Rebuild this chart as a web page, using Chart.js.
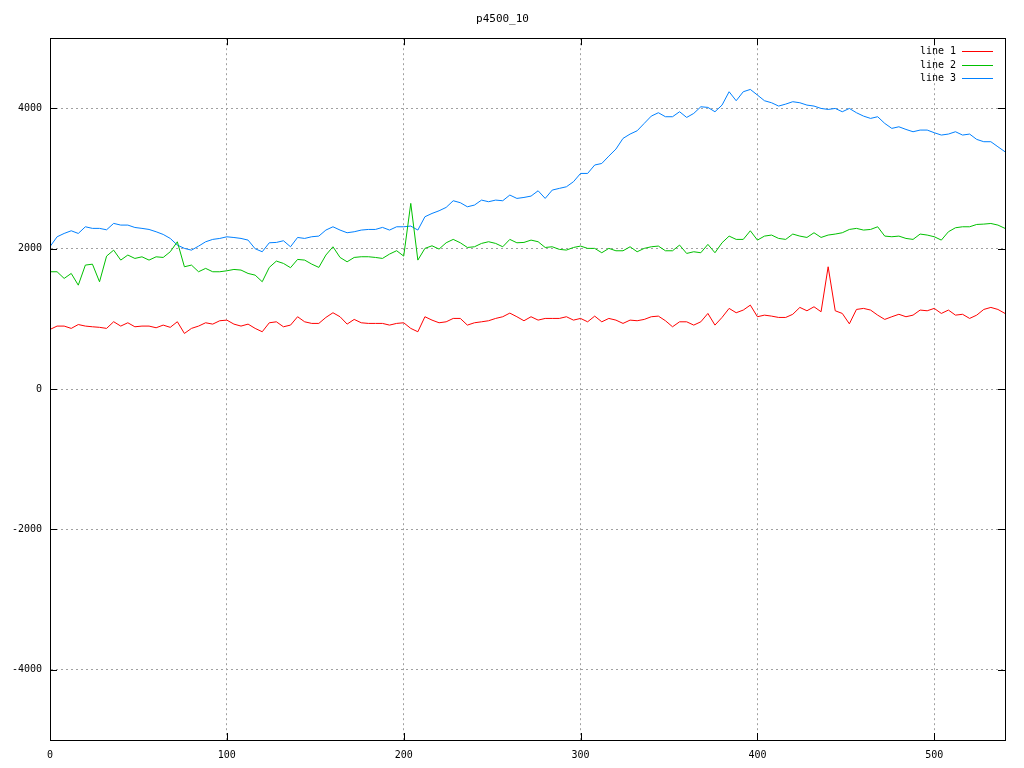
<!DOCTYPE html>
<html>
<head>
<meta charset="utf-8">
<title>p4500_10</title>
<script src="https://cdn.jsdelivr.net/npm/chart.js@4.4.0/dist/chart.umd.min.js"></script>
<style>
html, body { margin: 0; padding: 0; background: #fff; }
#wrap { width: 1024px; height: 768px; }
</style>
</head>
<body>
<div id="wrap"><canvas id="plot"></canvas></div>
<script>
// sample positions (x)
var xValues = [0,4,8,12,16,20,24,28,32,36,40,44,48,52,56,60,64,68,72,76,80,84,88,92,96,100,104,108,112,
  116,120,124,128,132,136,140,144,148,152,156,160,164,168,172,176,180,184,188,192,196,200,204,208,212,
  216,220,224,228,232,236,240,244,248,252,256,260,264,268,272,276,280,284,288,292,296,300,304,308,
  312,316,320,324,328,332,336,340,344,348,352,356,360,364,368,372,376,380,384,388,392,396,400,404,408,412,416,420,
  424,428,432,436,440,444,448,452,456,460,464,468,472,476,480,484,488,492,496,500,504,508,512,516,520,524,528,532,536,540];

var line1 = [850,898,898,865,920,898,888,880,865,960,898,945,888,898,898,874,912,880,960,793,865,898,945,926,974,983,926,898,926,
  865,817,945,959,888,912,1031,959,936,936,1021,1088,1031,926,993,945,936,936,936,912,936,945,865,817,1031,
  983,945,959,1007,1007,912,945,959,974,1007,1031,1083,1031,974,1031,983,1007,1007,1007,1031,983,1007,959,1040,
  959,1007,983,936,983,974,993,1031,1040,974,888,959,959,912,959,1078,912,1021,1150,1088,1126,1197,1031,1054,1040,1021,1021,1066,
  1164,1116,1173,1102,1743,1116,1078,930,1135,1150,1126,1054,993,1031,1066,1031,1054,1126,1116,1150,1078,1126,1054,1066,1007,1054,1135,1164,1135,1078];

var line2 = [1672,1672,1577,1648,1481,1767,1780,1529,1895,1980,1838,1910,1862,1885,1838,1885,1876,1957,2099,1743,1767,1672,1720,1672,1672,1686,1705,1696,1648,
  1624,1530,1734,1824,1791,1730,1848,1838,1781,1734,1910,2028,1876,1814,1876,1886,1886,1876,1862,1924,1972,1895,2646,1838,2005,
  2042,1995,2085,2133,2085,2018,2028,2076,2100,2076,2028,2133,2085,2090,2123,2100,2018,2028,1991,1981,2018,2038,2005,2005,
  1943,2005,1971,1971,2028,1957,2005,2028,2038,1971,1971,2052,1933,1957,1943,2062,1943,2085,2180,2133,2133,2256,2123,2180,2195,2147,2133,2209,
  2180,2161,2228,2161,2195,2209,2228,2275,2290,2266,2275,2313,2180,2171,2180,2147,2133,2209,2195,2171,2123,2242,2299,2313,2313,2346,2351,2360,2337,2290];

var line3 = [2030,2170,2218,2256,2218,2313,2290,2290,2270,2361,2337,2337,2303,2290,2275,2242,2204,2147,2052,2005,1980,2037,2099,2133,2147,2170,2160,2147,2123,
  2000,1957,2085,2090,2114,2028,2161,2147,2171,2180,2266,2313,2266,2228,2242,2266,2275,2275,2304,2266,2313,2313,2323,2266,2456,
  2503,2541,2589,2684,2656,2598,2622,2693,2670,2693,2684,2765,2717,2731,2750,2826,2717,2836,2860,2883,2955,3073,3073,3193,
  3215,3320,3420,3572,3634,3681,3786,3890,3938,3881,3881,3952,3871,3928,4023,4014,3952,4047,4237,4109,4237,4270,4190,4109,4080,4033,4061,4095,
  4080,4047,4033,3999,3985,3999,3952,3999,3938,3890,3857,3881,3786,3715,3738,3700,3667,3691,3691,3653,3620,3634,3667,3620,3634,3558,3525,3525,3453,3382];

var seriesNames = ['line 1', 'line 2', 'line 3'];
var seriesColors = ['#ff0000', '#00c000', '#0080ff'];
var xTicks = [0, 100, 200, 300, 400, 500];
var yTicks = [-4000, -2000, 0, 2000, 4000];
var chartTitle = 'p4500_10';

function pts(ys) {
  return xValues.map(function (x, i) { return { x: x, y: ys[i] }; });
}

var monoFont = '"DejaVu Sans Mono", "Liberation Mono", monospace';

// frame, inward tick marks and the gnuplot style key
var gnuplotBits = {
  id: 'gnuplotBits',
  afterDraw: function (chart) {
    var ctx = chart.ctx, a = chart.chartArea;
    var xs = chart.scales.x, ys = chart.scales.y;
    ctx.save();
    ctx.setLineDash([]);
    ctx.strokeStyle = '#000';
    ctx.lineWidth = 1;
    ctx.strokeRect(Math.round(a.left) + 0.5, Math.round(a.top) + 0.5,
      Math.round(a.right - a.left), Math.round(a.bottom - a.top));
    ctx.beginPath();
    xTicks.forEach(function (v) {
      var p = Math.round(xs.getPixelForValue(v)) + 0.5;
      ctx.moveTo(p, a.bottom); ctx.lineTo(p, a.bottom - 7);
      ctx.moveTo(p, a.top); ctx.lineTo(p, a.top + 7);
    });
    yTicks.forEach(function (v) {
      var p = Math.round(ys.getPixelForValue(v)) + 0.5;
      ctx.moveTo(a.left, p); ctx.lineTo(a.left + 7, p);
      ctx.moveTo(a.right, p); ctx.lineTo(a.right - 7, p);
    });
    ctx.stroke();

    // key
    ctx.font = '10px ' + monoFont;
    ctx.textAlign = 'right';
    ctx.textBaseline = 'middle';
    seriesNames.forEach(function (name, i) {
      var y = Math.round(a.top + 13 + i * 13.5) + 0.5;
      ctx.fillStyle = '#000';
      ctx.fillText(name, a.right - 49, y);
      ctx.strokeStyle = seriesColors[i];
      ctx.beginPath();
      ctx.moveTo(a.right - 43, y);
      ctx.lineTo(a.right - 12, y);
      ctx.stroke();
    });
    ctx.restore();
  }
};

var gridStyle = {
  color: '#a0a0a0',
  lineWidth: 1,
  drawTicks: false
};

function plainLabel(v) { return String(v); }

new Chart(document.getElementById('plot'), {
  type: 'line',
  data: {
    datasets: [
      { label: seriesNames[0], data: pts(line1), borderColor: seriesColors[0], borderWidth: 1, pointRadius: 0, tension: 0, fill: false },
      { label: seriesNames[1], data: pts(line2), borderColor: seriesColors[1], borderWidth: 1, pointRadius: 0, tension: 0, fill: false },
      { label: seriesNames[2], data: pts(line3), borderColor: seriesColors[2], borderWidth: 1, pointRadius: 0, tension: 0, fill: false }
    ]
  },
  options: {
    responsive: true,
    maintainAspectRatio: false,
    animation: false,
    layout: { padding: { top: 0, right: 19, bottom: 0, left: 0 } },
    plugins: {
      legend: { display: false },
      tooltip: { enabled: false },
      title: {
        display: true,
        text: chartTitle,
        color: '#000',
        font: { family: monoFont, size: 11, weight: 'normal' },
        padding: { top: 13, bottom: 12 }
      }
    },
    scales: {
      x: {
        type: 'linear',
        min: 0,
        max: 540,
        afterBuildTicks: function (s) { s.ticks = xTicks.map(function (v) { return { value: v }; }); },
        afterFit: function (s) { s.height = 28; },
        grid: gridStyle,
        border: { display: true, color: '#000', dash: [2, 3] },
        ticks: { color: '#000', padding: 9, maxRotation: 0, font: { family: monoFont, size: 10 }, callback: plainLabel }
      },
      y: {
        type: 'linear',
        min: -5000,
        max: 5000,
        afterBuildTicks: function (s) { s.ticks = yTicks.map(function (v) { return { value: v }; }); },
        afterFit: function (s) { s.width = 50; },
        grid: gridStyle,
        border: { display: true, color: '#000', dash: [2, 3] },
        ticks: { color: '#000', padding: 8, font: { family: monoFont, size: 10 }, callback: plainLabel }
      }
    }
  },
  plugins: [gnuplotBits]
});
</script>
</body>
</html>
